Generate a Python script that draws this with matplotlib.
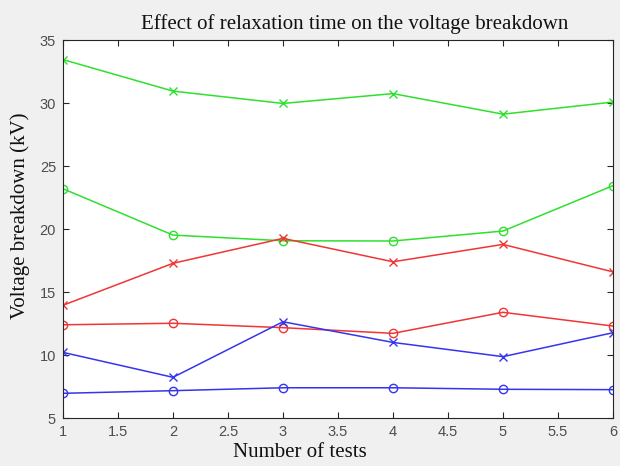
import matplotlib
matplotlib.use("Agg")
import matplotlib.pyplot as plt

# number of tests
tests = [1, 2, 3, 4, 5, 6]

# breakdown voltage (kV) per series
green_x = [33.45, 30.95, 29.97, 30.75, 29.12, 30.08]
green_o = [23.2, 19.52, 19.07, 19.05, 19.84, 23.44]
red_x = [13.95, 17.28, 19.26, 17.4, 18.78, 16.6]
red_o = [12.4, 12.52, 12.17, 11.72, 13.39, 12.3]
blue_x = [10.21, 8.23, 12.64, 11.0, 9.87, 11.77]
blue_o = [6.96, 7.17, 7.4, 7.4, 7.28, 7.25]

xticks = [1, 1.5, 2, 2.5, 3, 3.5, 4, 4.5, 5, 5.5, 6]
yticks = [5, 10, 15, 20, 25, 30, 35]

green = "#2fe02f"
red = "#f03535"
blue = "#3535ee"

fig = plt.figure(figsize=(6.2, 4.66), dpi=100, facecolor="#f0f0f0")
ax = fig.add_axes([0.1016, 0.103, 0.887, 0.811])

# each series drawn with its marker
ax.plot(tests, green_x, "-x", color=green, lw=1.1, ms=6)
ax.plot(tests, green_o, "-o", color=green, lw=1.1, ms=6, mfc="none")
ax.plot(tests, red_x, "-x", color=red, lw=1.1, ms=6)
ax.plot(tests, red_o, "-o", color=red, lw=1.1, ms=6, mfc="none")
ax.plot(tests, blue_x, "-x", color=blue, lw=1.1, ms=6)
ax.plot(tests, blue_o, "-o", color=blue, lw=1.1, ms=6, mfc="none")

ax.set_xlim(1, 6)
ax.set_ylim(5, 35)
ax.set_xticks(xticks)
ax.set_xticklabels([("%g" % t) for t in xticks])
ax.set_yticks(yticks)
ax.tick_params(direction="in", top=True, right=True, length=4, width=0.8,
               colors="#262626", labelcolor="#4d4d4d", labelsize=10.5,
               labelfontfamily="Liberation Sans", pad=5)
for s in ax.spines.values():
    s.set_color("#262626")
    s.set_linewidth(0.8)

serif = {"family": "Liberation Serif", "size": 15, "color": "#111111"}
ax.set_title("Effect of relaxation time on the voltage breakdown", fontdict=serif,
             x=0.531, pad=8)
ax.set_xlabel("Number of tests", fontdict=serif)
ax.xaxis.set_label_coords(0.431, -0.066)
ax.set_ylabel("Voltage breakdown (kV)", fontdict=serif)
ax.yaxis.set_label_coords(-0.06, 0.534)

fig.savefig("out.png", dpi=100, facecolor=fig.get_facecolor())
